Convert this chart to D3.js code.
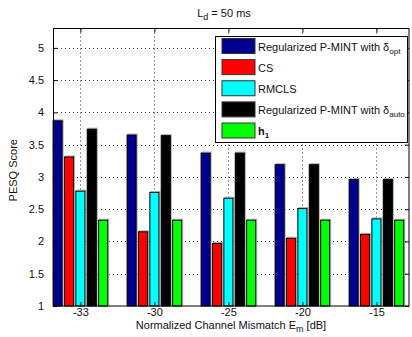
<!DOCTYPE html>
<html>
<head>
<meta charset="utf-8">
<script src="https://cdn.jsdelivr.net/npm/d3@7"></script>
<style>
  html, body { margin: 0; padding: 0; background: #fff; }
  svg { display: block; font-family: "Liberation Sans", Arial, Helvetica, sans-serif; }
</style>
</head>
<body>
<svg id="chart" width="412" height="337"></svg>
<script>
// Channel mismatch levels (dB) on the x axis
const mismatchLabels = ["-33", "-30", "-25", "-20", "-15"];

// PESQ score per method, one value per mismatch level
const pmintOpt  = [3.87, 3.65, 3.37, 3.19, 2.96];
const csScores  = [3.31, 2.15, 1.97, 2.05, 2.11];
const rmcls     = [2.78, 2.76, 2.67, 2.51, 2.35];
const pmintAuto = [3.74, 3.64, 3.37, 3.19, 2.96];
const h1Scores  = [2.33, 2.33, 2.33, 2.33, 2.33];

const yTickValues = [1, 1.5, 2, 2.5, 3, 3.5, 4, 4.5, 5];

const series = [
  { key: "opt",  values: pmintOpt,  color: "#00008f" },
  { key: "cs",   values: csScores,  color: "#ff0000" },
  { key: "rm",   values: rmcls,     color: "#00ffff" },
  { key: "auto", values: pmintAuto, color: "#000000" },
  { key: "h1",   values: h1Scores,  color: "#00ff00" }
];

const svg = d3.select("#chart");
const plot = { left: 53, right: 409, top: 28.5, bottom: 306 };

const x = d3.scaleLinear().domain([0.63, 5.44]).range([plot.left, plot.right]);
const y = d3.scaleLinear().domain([1, 5.3]).range([plot.bottom, plot.top]);

// Bars of a group share 0.77 units around each group position
const groupHalf = 0.3845;
const groupPx = x(1 + groupHalf) - x(1 - groupHalf);
const inner = d3.scaleBand()
  .domain(series.map(s => s.key))
  .range([-groupPx / 2, groupPx / 2])
  .paddingInner(0.2)
  .paddingOuter(0.1);

const positions = mismatchLabels.map((_, i) => i + 1);

// Dotted grid
const grid = svg.append("g").attr("stroke", "#333").attr("stroke-width", 1)
  .attr("stroke-dasharray", "1,3");
grid.selectAll("line.h").data(yTickValues.slice(1)).join("line")
  .attr("x1", plot.left).attr("x2", plot.right)
  .attr("y1", d => Math.round(y(d)) + 0.5).attr("y2", d => Math.round(y(d)) + 0.5);
grid.selectAll("line.v").data(positions).join("line")
  .attr("y1", plot.top).attr("y2", plot.bottom)
  .attr("x1", d => Math.round(x(d)) + 0.5).attr("x2", d => Math.round(x(d)) + 0.5);

// Bars, each with a faint grey edge on its top and right side
const bars = svg.append("g");
series.forEach(s => {
  const g = bars.append("g");
  g.selectAll("rect.edge").data(s.values).join("rect")
    .attr("class", "edge")
    .attr("x", (d, i) => x(positions[i]) + inner(s.key) + 1)
    .attr("width", inner.bandwidth())
    .attr("y", d => y(d) - 1)
    .attr("height", d => y(1) - y(d))
    .attr("fill", "none")
    .attr("stroke", "#b0b0b0")
    .attr("stroke-width", 1);
  g.selectAll("rect.bar").data(s.values).join("rect")
    .attr("class", "bar")
    .attr("x", (d, i) => x(positions[i]) + inner(s.key))
    .attr("width", inner.bandwidth())
    .attr("y", d => y(d))
    .attr("height", d => y(1) - y(d))
    .attr("fill", s.color)
    .attr("stroke", "#000")
    .attr("stroke-width", 1);
});

// Axes with inward ticks on all four sides
const tickFmt = d => String(d);
svg.append("g").attr("transform", `translate(${plot.left},0)`)
  .call(d3.axisLeft(y).tickValues(yTickValues).tickFormat(tickFmt).tickSizeInner(-4).tickSizeOuter(0).tickPadding(9))
  .call(g => g.select(".domain").remove());
svg.append("g").attr("transform", `translate(${plot.right},0)`)
  .call(d3.axisRight(y).tickValues(yTickValues).tickFormat("").tickSizeInner(-4).tickSizeOuter(0))
  .call(g => g.select(".domain").remove());
svg.append("g").attr("transform", `translate(0,${plot.bottom})`)
  .call(d3.axisBottom(x).tickValues(positions).tickFormat((d, i) => mismatchLabels[i]).tickSizeInner(-4).tickSizeOuter(0).tickPadding(2))
  .call(g => g.select(".domain").remove());
svg.append("g").attr("transform", `translate(0,${plot.top})`)
  .call(d3.axisTop(x).tickValues(positions).tickFormat("").tickSizeInner(-4).tickSizeOuter(0))
  .call(g => g.select(".domain").remove());

svg.selectAll(".tick text").attr("font-size", 11).attr("fill", "#111")
  .attr("font-family", "'Liberation Sans', Arial, sans-serif");

// Axes box
svg.append("rect")
  .attr("x", plot.left + 0.5).attr("y", plot.top)
  .attr("width", plot.right - plot.left - 0.5).attr("height", plot.bottom - plot.top)
  .attr("fill", "none").attr("stroke", "#000").attr("stroke-width", 1);

// Title
const title = svg.append("text").attr("x", 224).attr("y", 17)
  .attr("text-anchor", "middle").attr("font-size", 11).attr("fill", "#111");
title.append("tspan").text("L");
title.append("tspan").attr("dy", 3).attr("font-size", 9).text("d");
title.append("tspan").attr("dy", -3).text(" = 50 ms");

// X label
const xl = svg.append("text").attr("x", 231).attr("y", 329)
  .attr("text-anchor", "middle").attr("font-size", 11).attr("fill", "#111");
xl.append("tspan").text("Normalized Channel Mismatch E");
xl.append("tspan").attr("dy", 3).attr("font-size", 9).text("m");
xl.append("tspan").attr("dy", -3).text(" [dB]");

// Y label
svg.append("text")
  .attr("transform", `translate(17,${(plot.top + plot.bottom) / 2 + 3}) rotate(-90)`)
  .attr("text-anchor", "middle").attr("font-size", 11).attr("fill", "#111")
  .text("PESQ Score");

// Legend
const legend = svg.append("g");
legend.append("rect").attr("x", 215.5).attr("y", 36.5).attr("width", 192).attr("height", 106)
  .attr("fill", "#fff").attr("stroke", "#000").attr("stroke-width", 1);

const legendLabels = [
  { main: "Regularized P-MINT with \u03b4", sub: "opt" },
  { main: "CS" },
  { main: "RMCLS" },
  { main: "Regularized P-MINT with \u03b4", sub: "auto" },
  { main: "h", sub: "1", bold: true }
];
const ly = d3.scaleLinear().domain([0, 4]).range([46, 130.5]);
series.forEach((s, i) => {
  const cy = ly(i);
  legend.append("rect").attr("x", 222).attr("y", cy - 7.5).attr("width", 33).attr("height", 15)
    .attr("fill", s.color).attr("stroke", "#333").attr("stroke-width", 1);
  const t = legend.append("text").attr("x", 258).attr("y", cy + 4.5)
    .attr("font-size", 11).attr("fill", "#111")
    .attr("font-weight", legendLabels[i].bold ? "bold" : "normal");
  t.append("tspan").text(legendLabels[i].main);
  if (legendLabels[i].sub) {
    t.append("tspan").attr("dy", 3).attr("font-size", 8).text(legendLabels[i].sub);
  }
});
</script>
</body>
</html>
